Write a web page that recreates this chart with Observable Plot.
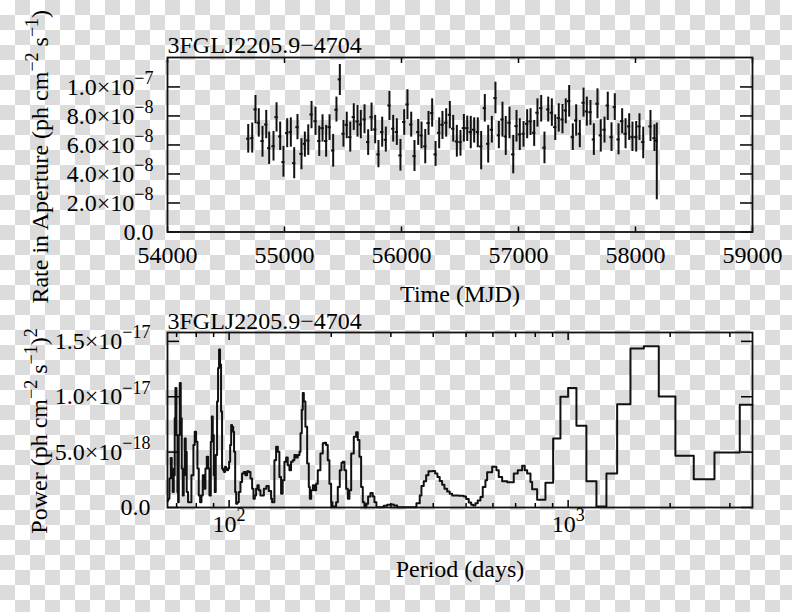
<!DOCTYPE html>
<html>
<head>
<meta charset="utf-8">
<script src="https://cdn.jsdelivr.net/npm/d3@7"></script>
<script src="https://cdn.jsdelivr.net/npm/@observablehq/plot@0.6"></script>
<style>
  html, body { margin: 0; padding: 0; }
  #chart {
    position: relative; width: 792px; height: 612px; overflow: hidden;
    background-color: #ffffff;
    background-image:
      linear-gradient(45deg, #dcdcdc 25%, transparent 25%, transparent 75%, #dcdcdc 75%),
      linear-gradient(45deg, #dcdcdc 25%, transparent 25%, transparent 75%, #dcdcdc 75%);
    background-size: 30px 30px;
    background-position: 0 0, 15px 15px;
  }
  #chart svg { display: block; }
</style>
</head>
<body>
<div id="chart"></div>
<script>
// ---------- text ----------
const sourceName = "3FGLJ2205.9−4704";
const timeLabel = "Time (MJD)";
const rateLabel = "Rate in Aperture (ph cm{−2} s{−1})";
const periodLabel = "Period (days)";
const powerLabel = "Power (ph cm{−2} s{−1}){2}";

// ---------- ticks ----------
const timeTicks = [54000, 55000, 56000, 57000, 58000, 59000];
const rateTicks = [0, 2e-8, 4e-8, 6e-8, 8e-8, 1e-7];
const powerTicks = [0, 5e-18, 1e-17, 1.5e-17];
const periodMajorTicks = [100, 1000];
const periodMinorTicks = [70, 80, 90, 200, 300, 400, 500, 600, 700, 800, 900, 2000, 3000];

// ---------- light curve (rates in units of 1e-8 ph cm^-2 s^-1) ----------
const RATE_UNIT = 1e-8;
const mjd = [54690, 54724, 54752, 54780, 54812, 54844, 54869, 54906, 54932, 54963, 54991, 55023, 55054, 55083, 55111, 55145, 55174, 55203, 55231, 55265, 55297, 55325, 55356, 55385, 55416, 55444, 55473, 55504, 55532, 55562, 55592, 55624, 55652, 55684, 55715, 55744, 55775, 55803, 55835, 55866, 55897, 55929, 55960, 55991, 56023, 56051, 56083, 56111, 56143, 56171, 56203, 56231, 56262,
  56291, 56322, 56350, 56382, 56413, 56442, 56473, 56504, 56533, 56562, 56592, 56621, 56652, 56681, 56712, 56741, 56772, 56803, 56832, 56863, 56891, 56923, 56955, 56983, 57011, 57043, 57074, 57103, 57134, 57162, 57194, 57222, 57254, 57285, 57314, 57344, 57376, 57404, 57433, 57464, 57493, 57524, 57556, 57584, 57615, 57644, 57675, 57703, 57735, 57763, 57795, 57823, 57855, 57886, 57915, 57946, 57974, 58006, 58034, 58066, 58128, 58162, 58182];
const rate = [6.43, 6.47, 8.45, 7.53, 6.27, 7.41, 5.78, 5.92, 7.92, 6.59, 4.82, 6.82, 6.89, 4.75, 7.23, 5.39, 6.08, 6.31, 8.10, 7.64, 6.27, 7.16, 6.27, 7.23, 5.62, 8.43, 10.52, 6.77, 7.39, 6.54, 7.92, 7.62, 7.41, 7.76, 6.20, 7.92, 7.07, 5.35, 6.89, 6.36, 8.72, 7.12, 6.89, 5.28, 7.58, 8.79, 7.41, 5.23, 6.89, 6.66, 5.90, 7.51, 8.20,
  5.35, 6.84, 7.39, 7.53, 8.08, 7.12, 6.24, 6.20, 7.16, 7.16, 6.89, 7.05, 6.89, 5.90, 8.54, 6.08, 7.05, 9.23, 6.66, 7.76, 6.59, 7.53, 5.35, 7.30, 6.73, 6.77, 7.46, 7.62, 6.84, 8.22, 8.54, 5.81, 8.45, 8.22, 7.23, 7.85, 7.76, 8.38, 9.02, 6.54, 7.69, 6.77, 8.91, 8.31, 8.26, 6.38, 8.84, 6.66, 7.05, 8.72, 6.54, 8.61, 6.38, 7.64, 6.77, 7.28, 6.54, 6.54, 7.28, 6.20, 7.28, 6.47, 6.30];
const rateHi = [7.41, 7.51, 9.41, 8.50, 7.28, 8.38, 6.89, 6.93, 8.91, 7.58, 5.90, 7.81, 7.87, 5.81, 8.10, 6.43, 6.89, 7.39, 9.00, 8.61, 7.30, 8.08, 7.35, 8.08, 6.73, 9.30, 11.55, 7.69, 8.26, 7.58, 8.84, 8.72, 8.38, 8.77, 7.05, 8.89, 8.04, 6.31, 7.92, 7.23, 9.69, 8.04, 7.81, 6.38, 8.43, 9.81, 8.26, 6.31, 7.76, 7.58, 7.07, 8.31, 9.18,
  6.24, 7.87, 8.31, 8.50, 9.00, 8.04, 7.35, 7.00, 8.10, 7.99, 7.97, 7.87, 7.87, 6.93, 9.48, 7.35, 7.97, 10.33, 7.62, 8.95, 7.97, 8.61, 6.66, 8.38, 7.81, 7.62, 8.43, 8.50, 7.69, 9.18, 9.41, 6.89, 9.30, 9.18, 8.08, 8.84, 8.79, 9.18, 10.10, 7.46, 8.77, 7.69, 9.92, 9.30, 9.07, 7.46, 9.87, 7.74, 7.92, 9.64, 7.53, 9.53, 7.46, 8.50, 7.81, 8.15, 7.58, 7.62, 8.15, 7.23, 8.38, 7.39, 7.51];
const rateLo = [5.44, 5.44, 7.46, 6.54, 5.16, 6.43, 4.66, 4.89, 6.89, 5.62, 3.78, 5.81, 5.85, 3.67, 6.36, 4.29, 5.16, 5.28, 7.12, 6.66, 5.21, 6.20, 5.16, 6.31, 4.47, 7.58, 9.41, 5.85, 6.43, 5.51, 7.00, 6.54, 6.43, 6.77, 5.28, 6.93, 6.08, 4.43, 5.85, 5.51, 7.69, 6.20, 5.97, 4.20, 6.66, 7.74, 6.54, 4.17, 5.97, 5.74, 4.70, 6.66, 7.23,
  4.52, 5.74, 6.38, 6.54, 7.12, 6.20, 5.16, 5.23, 6.20, 6.24, 5.74, 6.13, 5.81, 4.29, 7.58, 4.75, 6.13, 8.15, 5.74, 6.54, 5.28, 6.43, 4.01, 6.20, 5.62, 5.85, 6.43, 6.66, 5.90, 7.23, 7.58, 4.70, 7.58, 7.28, 6.31, 6.89, 6.77, 7.46, 7.92, 5.62, 6.61, 5.81, 7.92, 7.30, 7.35, 5.28, 7.81, 5.51, 6.13, 7.69, 5.55, 7.69, 5.32, 6.77, 5.74, 6.31, 5.55, 5.51, 6.31, 5.05, 6.24, 5.55, 2.22];

// ---------- periodogram (power in units of 1e-18 (ph cm^-2 s^-1)^2) ----------
const POWER_UNIT = 1e-18;
const period = [65.8, 66.1, 66.67, 67.27, 67.72, 68.18, 68.65, 69.11, 69.45, 69.92, 70.4, 70.72, 71.03, 71.51, 72.0, 72.48, 72.97, 73.47, 73.96, 74.47, 74.97, 75.66, 76.35, 77.4, 78.46, 79.17, 79.9, 80.63, 81.36, 82.11, 82.86, 83.61, 84.38, 85.14, 85.92, 86.7, 87.49, 88.29, 88.89, 89.49, 90.1, 90.7, 91.32, 92.13, 92.76, 93.39, 94.03, 94.67, 95.32, 95.96, 96.62, 97.28, 97.94, 98.61, 99.28, 100, 100.7, 101.4, 102.0, 102.8, 103.4, 104.2, 104.9, 105.8, 106.8, 108.0, 109.2, 110.5, 111.7, 113.0, 114.3, 115.6, 116.9, 118.0, 119.1, 120.1, 121.2, 122.3,
  123.7, 126.6, 128.8, 130.9, 133.0, 133.9, 136.0, 137.6, 139.2, 140.7, 142.3, 143.9, 145.6, 147.3, 148.9, 150.6, 152.3, 154.1, 155.8, 157.6, 159.4, 161.3, 162.4, 163.8, 164.9, 166.1, 167.9, 169.9, 171.8, 173.0, 174.6, 176.6, 178.6, 180.6, 182.6, 185.9, 188.9, 191.0, 193.2, 195.4, 197.6, 199.9, 201.7, 204.5, 206.8, 209.2, 212.0, 214.5, 216.4, 218.8, 221.4, 223.9, 226.4, 229.1, 233.2, 236.9, 239.6, 242.3, 245.1, 247.9, 250.7, 254.1, 257.0, 261.1, 265.2, 268.3, 271.9, 279.5, 285.9, 292.6, 299.2, 306.0, 313.1,
  320, 350.4, 356.9, 365, 369.2, 375, 381.2, 387.2, 398.6, 405.2, 411.6, 418, 424.9, 431.6, 439.6, 447.4, 454.8, 475.6, 492.1, 500.1, 509.1, 517.5, 524.6, 532.8, 541.2, 551.2, 559.9, 570.2, 576.9, 596.8, 614.5, 624.2, 638.8, 661, 691.2, 710.3, 731.8, 744.7, 757, 774.2, 783.2, 810.2, 857.2, 903.2, 949, 1000, 1058, 1132, 1212, 1297, 1395, 1527, 1672, 1851, 2072, 2347, 2702, 3208, 3498];
const power = [0.6, 0.79, 2.61, 4.48, 3.52, 1.39, 2.91, 8.06, 10.79, 6.55, 1.39, 0.48, 6.55, 11.24, 8.06, 3.52, 1.09, 2.91, 6.24, 5.03, 1.39, 0.48, 0.48, 2.91, 5.64, 6.85, 5.94, 3.52, 1.09, 0.48, 1.09, 2.91, 1.7, 3.52, 4.58, 3.52, 1.09, 5.94, 8.21, 6.55, 2.91, 1.39, 4.73, 9.58, 12.6, 14.27, 12.9, 8.67, 3.52, 3.36, 3.21, 3.67, 3.52, 3.36, 3.52, 4.12, 5.64, 7.45, 7.3, 6.85, 5.03, 1.39, 0.33, 0.48, 1.39, 2.3, 3.06, 3.21, 2.91, 3.27, 3.21, 2.61, 1.7, 0.79, 1.09, 1.7, 2.0, 1.55,
  1.09, 1.7, 1.94, 1.5, 0.79, 0.48, 4.27, 5.48, 5.03, 2.76, 1.24, 2.45, 4.12, 4.52, 3.82, 3.36, 4.12, 4.27, 4.73, 4.52, 4.73, 5.03, 6.7, 8.82, 10.33, 9.58, 7.3, 3.97, 1.85, 0.79, 1.55, 2.0, 1.55, 2.15, 3.36, 4.88, 5.79, 5.85, 5.64, 4.27, 2.15, 0.48, 0.09, 0.09, 0.48, 1.85, 3.36, 4.03, 4.12, 3.36, 1.7, 0.79, 1.55, 4.88, 6.39, 6.79, 6.09, 4.58, 1.85, 0.48, 0.03, 0.33, 1.0, 1.3, 1.0, 0.48, 0.03, 0.03, 0.15, 0.24, 0.27, 0.18, 0.03,
  0.03, 0.03, 0.39, 1.09, 1.94, 2.36, 2.91, 3.27, 3.30, 3.06, 2.76, 2.39, 2.06, 1.70, 1.45, 1.24, 1.09, 1.06, 1.0, 0.76, 0.45, 0.24, 0.18, 0.39, 0.64, 0.94, 1.85, 2.45, 3.18, 3.67, 3.36, 2.76, 2.36, 2.27, 3.06, 3.36, 3.76, 3.36, 3.06, 2.3, 1.64, 0.7, 2.24, 6.24, 10.0, 10.8, 7.39, 2.36, 0.1, 3.06, 9.33, 14.36, 14.55, 10.03, 4.67, 2.55, 4.97, 9.27, 9.27];

// ---------- tables ----------
const lc = mjd.map((t, i) => ({mjd: t, rate: rate[i] * RATE_UNIT, lo: rateLo[i] * RATE_UNIT, hi: rateHi[i] * RATE_UNIT}));
const pg = period.map((p, i) => ({period: p, power: power[i] * POWER_UNIT}));

function sci(v) {
  if (v === 0) return "0.0";
  const e = Math.floor(Math.log10(v) + 1e-9);
  const m = v / Math.pow(10, e);
  return m.toFixed(1) + "×10{" + (e < 0 ? "−" : "") + Math.abs(e) + "}";
}
const pow10 = v => "10{" + Math.round(Math.log10(v)) + "}";
const blank = () => "";

const FONT = "'Liberation Serif', 'Times New Roman', serif";
const baseStyle = {fontFamily: FONT, fontSize: "24px", background: "transparent", overflow: "visible", color: "#000"};
const INK = "#111";

// ---------- top panel: light curve ----------
const topPlot = Plot.plot({
  width: 792, height: 310,
  marginLeft: 167, marginRight: 40, marginTop: 57, marginBottom: 78.5,
  style: baseStyle,
  x: {domain: [54000, 59000], label: null},
  y: {domain: [0, 1.203e-7], label: null},
  marks: [
    Plot.ruleX(lc, {x: "mjd", y1: "lo", y2: "hi", stroke: INK, strokeWidth: 2}),
    Plot.ruleY(lc, {y: "rate", x1: d => d.mjd - 14, x2: d => d.mjd + 14, stroke: INK, strokeWidth: 2}),
    Plot.axisY({anchor: "left", ticks: rateTicks, tickSize: -13, tickFormat: blank, label: null, strokeWidth: 1.5}),
    Plot.axisY({anchor: "right", ticks: rateTicks, tickSize: -13, tickFormat: blank, label: null, strokeWidth: 1.5}),
    Plot.axisX({anchor: "bottom", ticks: timeTicks, tickSize: -5, tickFormat: blank, label: null, strokeWidth: 1.5}),
    Plot.axisX({anchor: "top", ticks: timeTicks, tickSize: -5, tickFormat: blank, label: null, strokeWidth: 1.5}),
    Plot.axisY({anchor: "left", ticks: rateTicks, tickSize: 0, tickPadding: 14, tickFormat: sci, label: null}),
    Plot.axisX({anchor: "bottom", ticks: timeTicks, tickSize: 0, tickPadding: 14, tickFormat: d => String(d), label: null}),
    Plot.frame({stroke: INK, strokeWidth: 1.8}),
    Plot.text([sourceName], {text: d => d, frameAnchor: "top-left", textAnchor: "start", lineAnchor: "middle", dy: -11.7, fontSize: 24}),
    Plot.text([timeLabel], {text: d => d, frameAnchor: "bottom", textAnchor: "middle", lineAnchor: "middle", dy: 62.8, fontSize: 24}),
    Plot.text([rateLabel], {text: d => d, frameAnchor: "left", rotate: -90, textAnchor: "middle", lineAnchor: "middle", dx: -126.7, dy: 12, fontSize: 24})
  ]
});

// ---------- bottom panel: periodogram ----------
const bottomPlot = Plot.plot({
  width: 792, height: 302,
  marginLeft: 167, marginRight: 40, marginTop: 22, marginBottom: 105,
  style: baseStyle,
  x: {type: "log", domain: [65.8, 3498], label: null},
  y: {domain: [0, 1.58e-17], label: null},
  marks: [
    Plot.line(pg, {x: "period", y: "power", curve: "step-after", stroke: INK, strokeWidth: 2}),
    Plot.axisY({anchor: "left", ticks: powerTicks, tickSize: -12, tickFormat: blank, label: null, strokeWidth: 1.5}),
    Plot.axisY({anchor: "right", ticks: powerTicks, tickSize: -12, tickFormat: blank, label: null, strokeWidth: 1.5}),
    Plot.axisX({anchor: "bottom", ticks: periodMajorTicks, tickSize: -7, tickFormat: blank, label: null, strokeWidth: 1.5}),
    Plot.axisX({anchor: "top", ticks: periodMajorTicks, tickSize: -7, tickFormat: blank, label: null, strokeWidth: 1.5}),
    Plot.axisX({anchor: "bottom", ticks: periodMinorTicks, tickSize: -4, tickFormat: blank, label: null, strokeWidth: 1.5}),
    Plot.axisX({anchor: "top", ticks: periodMinorTicks, tickSize: -4, tickFormat: blank, label: null, strokeWidth: 1.5}),
    Plot.axisY({anchor: "left", ticks: powerTicks, tickSize: 0, tickPadding: 17, tickFormat: sci, label: null}),
    Plot.axisX({anchor: "bottom", ticks: periodMajorTicks, tickSize: 0, tickPadding: 7.5, tickFormat: pow10, label: null}),
    Plot.frame({stroke: INK, strokeWidth: 1.8}),
    Plot.text([sourceName], {text: d => d, frameAnchor: "top-left", textAnchor: "start", lineAnchor: "middle", dy: -10.7, fontSize: 24}),
    Plot.text([periodLabel], {text: d => d, frameAnchor: "bottom", textAnchor: "middle", lineAnchor: "middle", dy: 62.3, fontSize: 24}),
    Plot.text([powerLabel], {text: d => d, frameAnchor: "left", rotate: -90, textAnchor: "middle", lineAnchor: "middle", dx: -127.7, dy: 11, fontSize: 24})
  ]
});

const chart = document.getElementById("chart");
chart.appendChild(topPlot);
chart.appendChild(bottomPlot);

// turn {..} segments into raised superscript tspans
function supify(svg) {
  const NS = "http://www.w3.org/2000/svg";
  svg.querySelectorAll("text").forEach(t => {
    const s = t.textContent;
    if (!s.includes("{")) return;
    const fs = parseFloat(getComputedStyle(t).fontSize) || 24;
    const supSize = fs * 0.75, shift = fs * 0.45;
    while (t.firstChild) t.removeChild(t.firstChild);
    const parts = s.split(/(\{[^}]*\})/).filter(p => p !== "");
    let raised = false;
    for (const p of parts) {
      const ts = document.createElementNS(NS, "tspan");
      if (p.startsWith("{")) {
        ts.textContent = p.slice(1, -1);
        ts.setAttribute("font-size", supSize.toFixed(1));
        if (!raised) ts.setAttribute("dy", (-shift).toFixed(1));
        raised = true;
      } else {
        ts.textContent = p;
        if (raised) { ts.setAttribute("dy", shift.toFixed(1)); raised = false; }
      }
      t.appendChild(ts);
    }
  });
}
supify(topPlot);
supify(bottomPlot);
</script>
</body>
</html>
